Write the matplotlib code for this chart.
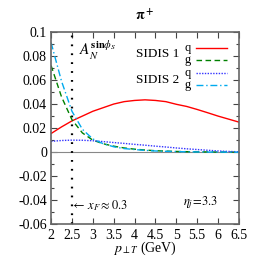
import numpy as np
import matplotlib
matplotlib.use('Agg')
import matplotlib.pyplot as plt
from matplotlib.ticker import MultipleLocator

plt.rcParams['font.family'] = ['Liberation Serif', 'DejaVu Serif']
plt.rcParams['mathtext.fontset'] = 'stix'
plt.rcParams['font.size'] = 10

# pT grid (GeV)
pt = [2.0, 2.25, 2.5, 2.75, 3.0, 3.25, 3.5, 3.75, 4.0, 4.25, 4.5,
      4.75, 5.0, 5.25, 5.5, 5.75, 6.0, 6.25, 6.5]

# SIDIS 1
sidis1_q = [0.0155, 0.021, 0.026, 0.030, 0.034, 0.037, 0.040, 0.042, 0.043, 0.0435,
            0.043, 0.042, 0.0398, 0.038, 0.0355, 0.0328, 0.030, 0.0275, 0.025]
sidis1_g = [0.072, 0.046, 0.027, 0.016, 0.010, 0.007, 0.005, 0.0035, 0.0025, 0.0018,
            0.0012, 0.0009, 0.0006, 0.0004, 0.0003, 0.0002, 0.0001, 0.0001, 0.0]
# SIDIS 2
sidis2_q = [0.009, 0.0097, 0.010, 0.0099, 0.0095, 0.0088, 0.008, 0.0073, 0.0065, 0.0058,
            0.005, 0.0043, 0.0035, 0.0028, 0.0022, 0.0016, 0.001, 0.0006, 0.0003]
sidis2_g = [0.091, 0.059, 0.034, 0.019, 0.011, 0.007, 0.0045, 0.003, 0.0022, 0.0015,
            0.001, 0.0007, 0.0005, 0.0003, 0.0002, 0.0001, 0.0001, 0.0, 0.0]

xf_line = 2.5

styles = {
    'q1': dict(color='#ff0000', lw=1.0, ls='-'),
    'g1': dict(color='#008000', lw=1.0, ls=(0, (4, 2.5))),
    'q2': dict(color='#3333ff', lw=1.0, ls=(0, (1, 1))),
    'g2': dict(color='#00aaee', lw=1.0, ls=(0, (5, 2, 1, 2))),
}

fig = plt.figure(figsize=(2.58, 2.57), dpi=100)
ax = fig.add_axes([0.198, 0.127, 0.728, 0.749])

ax.axhline(0, color='#888888', lw=0.8)
ax.axvline(xf_line, color='black', lw=1.6, ls=(0, (0.8, 3.2)))

ax.plot(pt, sidis1_q, **styles['q1'])
ax.plot(pt, sidis1_g, **styles['g1'])
ax.plot(pt, sidis2_q, **styles['q2'])
ax.plot(pt, sidis2_g, **styles['g2'])

ax.set_xlim(2, 6.5)
ax.set_ylim(-0.06, 0.1)
ax.yaxis.set_minor_locator(MultipleLocator(0.01))
ax.set_xticks([2, 2.5, 3, 3.5, 4, 4.5, 5, 5.5, 6, 6.5])
ax.set_xticklabels(['2', '2.5', '3', '3.5', '4', '4.5', '5', '5.5', '6', '6.5'])
ax.set_yticks([-0.06, -0.04, -0.02, 0, 0.02, 0.04, 0.06, 0.08, 0.1])
ax.set_yticklabels(['-0.06', '-0.04', '-0.02', '0', '0.02', '0.04', '0.06', '0.08', '0.1'])
ax.tick_params(which='both', direction='in', top=True, right=True, color='#444444',
               labelsize=10)
ax.tick_params(which='major', length=4, width=0.8, pad=3)
ax.tick_params(which='minor', length=2, width=0.8)
for s in ax.spines.values():
    s.set_color('#666666')
    s.set_linewidth(1.2)

ax.set_xlabel(r'$p_{\perp T}$ (GeV)', fontsize=10, labelpad=-1)
ax.set_title(r'$\mathbf{\pi^+}$', fontsize=10, pad=8)

ax.text(0.15, 0.905, r'$A_N^{\mathbf{sin}\phi_S}$', transform=ax.transAxes,
        fontsize=11, va='center', ha='left')
ax.text(0.105, 0.098, r'$\leftarrow\, x_F \approx 0.3$', transform=ax.transAxes,
        fontsize=9, va='center', ha='left')
ax.text(0.70, 0.114, r'$\eta_j\!=\!3.3$', transform=ax.transAxes,
        fontsize=9, va='center', ha='left')

# hand-made legend: group label, then q / g rows with line samples
groups = [('SIDIS 1', 0.886, [('q', 0.914, 'q1'), ('g', 0.853, 'g1')]),
          ('SIDIS 2', 0.751, [('q', 0.786, 'q2'), ('g', 0.725, 'g2')])]
for name, gy, rows in groups:
    ax.text(0.569, gy, name, transform=ax.transAxes, fontsize=9.5,
            va='center', ha='center')
    for lab, ry, key in rows:
        ax.text(0.729, ry, lab, transform=ax.transAxes, fontsize=9,
                va='center', ha='center')
        ax.plot([0.771, 0.936], [ry, ry], transform=ax.transAxes, **styles[key])

fig.savefig('out.png', dpi=100)
